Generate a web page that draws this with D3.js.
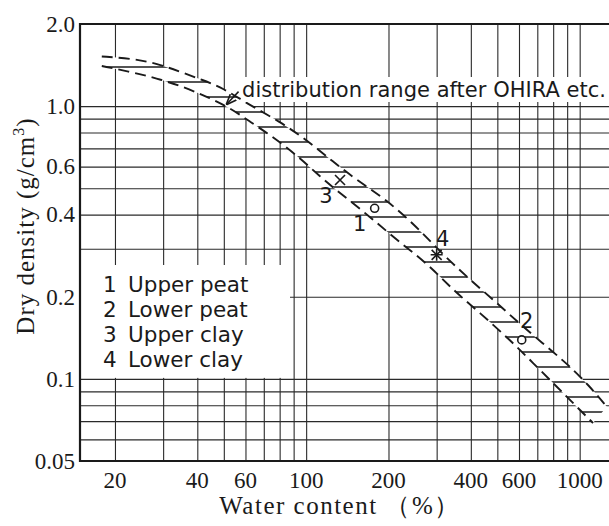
<!DOCTYPE html>
<html>
<head>
<meta charset="utf-8">
<script src="https://cdn.jsdelivr.net/npm/d3@7"></script>
<style>
	body { margin: 0; background: #fff; }
</style>
</head>
<body>
<div class="chart"></div>
<script>
// grid lines and tick labels of the log-log paper
var xGrid = [20, 30, 40, 50, 60, 70, 80, 90, 100, 200, 300, 400, 500, 600, 700, 800, 900, 1000];
var yGrid = [0.06, 0.07, 0.08, 0.09, 0.1, 0.2, 0.3, 0.4, 0.5, 0.6, 0.7, 0.8, 0.9, 1.0];
var xTicks = [20, 40, 60, 100, 200, 400, 600, 1000];
var yTicks = [0.05, 0.1, 0.2, 0.4, 0.6, 1.0, 2.0];
var yTickLabels = ['0.05', '0.1', '0.2', '0.4', '0.6', '1.0', '2.0'];

// the two dashed limits of the distribution range (water content %, dry density g/cm3)
var upperWater = [17.9, 22.7, 28.4, 34.6, 41.9, 49.7, 60.6, 80.2, 100.4, 125.3, 153, 197, 253.6, 308.5, 386, 497.5, 640, 896, 1091, 1256];
var upperDensity = [1.52, 1.497, 1.435, 1.337, 1.246, 1.165, 1.024, 0.877, 0.751, 0.626, 0.536, 0.453, 0.361, 0.293, 0.237, 0.19, 0.151, 0.1144, 0.0937, 0.0791];
var lowerWater = [17.9, 22.7, 28.4, 35.5, 43.3, 52.7, 62.3, 73.8, 92.3, 112.4, 132.9, 171.2, 214.3, 276, 344.3, 432.3, 556, 675, 824, 975, 1119];
var lowerDensity = [1.403, 1.337, 1.265, 1.178, 1.083, 0.985, 0.877, 0.784, 0.662, 0.551, 0.48, 0.393, 0.323, 0.266, 0.2118, 0.1744, 0.1389, 0.1144, 0.0937, 0.0791, 0.0689];

// the four samples
var sampleIds = ['1', '2', '3', '4'];
var sampleNames = ['Upper peat', 'Lower peat', 'Upper clay', 'Lower clay'];
var sampleWater = [178, 614, 133, 300];
var sampleDensity = [0.422, 0.139, 0.536, 0.285];
var sampleSymbols = ['circle', 'circle', 'cross', 'star'];

var ink = '#1a1a1a',
	gridColor = '#2a2a2a',
	serif = '"Liberation Serif", "Times New Roman", serif',
	sans = '"DejaVu Sans", sans-serif';

var width = 609, height = 526;
var margin = {top: 24, left: 80, bottom: 65, right: 0};
var plotW = width - margin.left - margin.right,
	plotH = height - margin.top - margin.bottom;

var x = d3.scaleLog().domain([14.9, 1280]).range([margin.left, width - margin.right]);
var y = d3.scaleLog().domain([0.05, 2.0]).range([height - margin.bottom, margin.top]);

var svg = d3.select('.chart').append('svg')
	.attr('width', width)
	.attr('height', height)
	.attr('fill', ink);

var defs = svg.append('defs');
defs.append('clipPath').attr('id', 'plot-clip')
	.append('rect')
	.attr('x', margin.left).attr('y', margin.top)
	.attr('width', plotW).attr('height', plotH);
var hatch = defs.append('pattern')
	.attr('id', 'hatch')
	.attr('patternUnits', 'userSpaceOnUse')
	.attr('width', 10)
	.attr('height', 15);
hatch.append('line')
	.attr('x1', 0).attr('x2', 10)
	.attr('y1', 7).attr('y2', 7)
	.attr('stroke', ink)
	.attr('stroke-width', 1.5);
defs.append('marker')
	.attr('id', 'arrow')
	.attr('viewBox', '0 0 10 10')
	.attr('refX', 9).attr('refY', 5)
	.attr('markerWidth', 7).attr('markerHeight', 7)
	.attr('orient', 'auto')
	.append('path')
	.attr('d', 'M0,1 L10,5 L0,9')
	.attr('fill', 'none')
	.attr('stroke', ink)
	.attr('stroke-width', 1.6);

// Grid lines
var gx = svg.append('g')
	.attr('transform', 'translate(0,' + (height - margin.bottom) + ')')
	.call(d3.axisBottom(x).tickValues(xGrid).tickSize(-plotH).tickFormat(''));
var gy = svg.append('g')
	.attr('transform', 'translate(' + margin.left + ',0)')
	.call(d3.axisLeft(y).tickValues(yGrid).tickSize(-plotW).tickFormat(''));
[gx, gy].forEach(function(g) {
	g.select('.domain').remove();
	g.selectAll('line').attr('stroke', gridColor).attr('stroke-width', 1.1);
});

// Distribution band
var upperPts = upperWater.map(function(w, i) { return [x(w), y(upperDensity[i])]; });
var lowerPts = lowerWater.map(function(w, i) { return [x(w), y(lowerDensity[i])]; });
var curve = d3.line().curve(d3.curveBasis);
var band = svg.append('g').attr('clip-path', 'url(#plot-clip)');
var outline = curve(upperPts) + 'L' + curve(lowerPts.slice().reverse()).slice(1) + 'Z';
band.append('path').attr('d', outline).attr('fill', '#fff');
band.append('path').attr('d', outline).attr('fill', 'url(#hatch)');
[upperPts, lowerPts].forEach(function(pts) {
	band.append('path')
		.attr('d', curve(pts))
		.attr('fill', 'none')
		.attr('stroke', ink)
		.attr('stroke-width', 1.9)
		.attr('stroke-dasharray', '11,6');
});

// Sample points
var labelOffsets = [[-15, 23], [5, -12], [-14, 23], [6, -9]];
sampleIds.forEach(function(id, i) {
	var cx = x(sampleWater[i]), cy = y(sampleDensity[i]);
	var g = svg.append('g')
		.attr('transform', 'translate(' + cx + ',' + cy + ')')
		.attr('stroke', ink)
		.attr('stroke-width', 1.6)
		.attr('fill', 'none');
	if (sampleSymbols[i] === 'circle') {
		g.append('circle').attr('r', 4).attr('fill', '#fff');
	} else {
		g.append('path').attr('d', 'M-5,-5L5,5M-5,5L5,-5');
		if (sampleSymbols[i] === 'star') {
			g.append('path').attr('d', 'M0,-6L0,6M-6,0L6,0');
		}
	}
	svg.append('text')
		.attr('x', cx + labelOffsets[i][0])
		.attr('y', cy + labelOffsets[i][1])
		.attr('text-anchor', 'middle')
		.attr('font-family', sans)
		.attr('font-size', '21px')
		.text(id);
});

// Annotation with its arrow
svg.append('rect')
	.attr('x', 243).attr('y', 77)
	.attr('width', width - 243).attr('height', 25)
	.attr('fill', '#fff');
svg.append('text')
	.attr('x', x(58.3))
	.attr('y', y(1.08))
	.attr('font-family', sans)
	.attr('font-size', '21px')
	.attr('textLength', 364)
	.text('distribution range after OHIRA etc.');
svg.append('line')
	.attr('x1', x(56.6)).attr('y1', y(1.13))
	.attr('x2', x(51.3)).attr('y2', y(1.018))
	.attr('stroke', ink)
	.attr('stroke-width', 1.5)
	.attr('marker-end', 'url(#arrow)');

// Legend
var legend = svg.append('g');
legend.append('rect')
	.attr('x', margin.left + 1).attr('y', 265)
	.attr('width', 209).attr('height', y(0.1) - 266)
	.attr('fill', '#fff');
sampleIds.forEach(function(id, i) {
	var row = legend.append('text')
		.attr('y', 292 + i * 25)
		.attr('font-family', sans)
		.attr('font-size', '21.5px');
	row.append('tspan').attr('x', 103).text(id);
	row.append('tspan').attr('x', 128).text(sampleNames[i]);
});

// Frame
svg.append('path')
	.attr('d', 'M' + width + ',' + margin.top + 'H' + margin.left + 'V' + (height - margin.bottom) + 'H' + width)
	.attr('fill', 'none')
	.attr('stroke', ink)
	.attr('stroke-width', 2.2);

// Tick labels
svg.append('g')
	.selectAll('text')
	.data(xTicks)
	.enter().append('text')
	.attr('x', function(d) { return x(d); })
	.attr('y', 488)
	.attr('text-anchor', 'middle')
	.attr('font-family', serif)
	.attr('font-size', '23px')
	.text(function(d) { return d; });
svg.append('g')
	.selectAll('text')
	.data(yTicks)
	.enter().append('text')
	.attr('x', margin.left - 5)
	.attr('y', function(d) { return y(d); })
	.attr('dy', '0.34em')
	.attr('text-anchor', 'end')
	.attr('font-family', serif)
	.attr('font-size', '23px')
	.text(function(d, i) { return yTickLabels[i]; });

// Axis titles
svg.append('text')
	.attr('x', 340)
	.attr('y', 514)
	.attr('text-anchor', 'middle')
	.attr('font-family', serif)
	.attr('font-size', '25px')
	.attr('letter-spacing', '1.5px')
	.text('Water content （%）');
var yTitle = svg.append('text')
	.attr('transform', 'translate(34,226) rotate(-90)')
	.attr('text-anchor', 'middle')
	.attr('font-family', serif)
	.attr('font-size', '25px')
	.attr('letter-spacing', '1px');
yTitle.append('tspan').text('Dry density (g/cm');
yTitle.append('tspan').attr('font-size', '16px').attr('dy', -10).text('3');
yTitle.append('tspan').attr('dy', 10).text(')');
</script>
</body>
</html>
